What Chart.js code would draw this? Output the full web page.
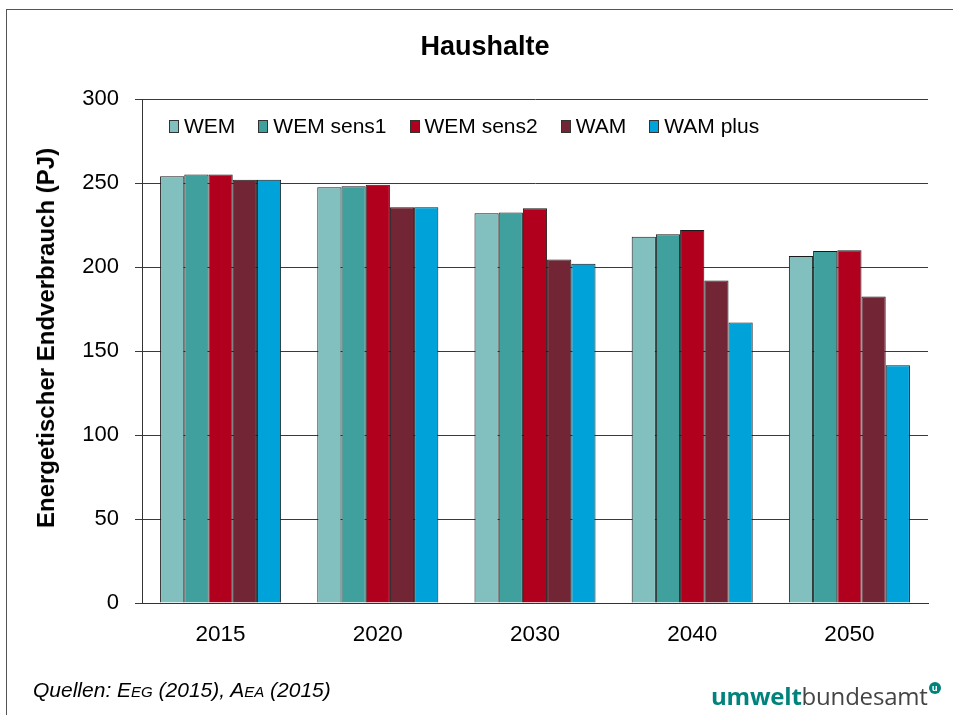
<!DOCTYPE html>
<html>
<head>
<meta charset="utf-8">
<script src="https://cdn.jsdelivr.net/npm/chart.js@4"></script>
<style>
  html, body { margin: 0; padding: 0; background: #fff; }
  body { width: 953px; height: 715px; position: relative; overflow: hidden; font-family: "Liberation Sans", Arial, sans-serif; }
  #frame { position: absolute; left: 6px; top: 9px; width: 1000px; height: 800px; border-left: 1px solid #555; border-top: 1px solid #555; }
  #wrap { position: absolute; left: 0; top: 0; width: 953px; height: 715px; }
  #title { position: absolute; left: 385px; width: 200px; top: 31px; text-align: center; font-size: 27px; font-weight: bold; color: #000; }
  #ytitle { position: absolute; left: 46px; top: 338px; transform: translate(-50%, -50%) rotate(-90deg); white-space: nowrap; font-size: 24px; font-weight: bold; color: #000; }
  #legend { position: absolute; left: 169px; top: 114px; display: flex; font-size: 21px; color: #000; }
  .item { display: flex; align-items: center; margin-right: 23px; }
  .box { width: 8px; height: 11px; border: 1px solid #333; margin-right: 5px; }
  #source { position: absolute; left: 33px; top: 678px; font-size: 21px; font-style: italic; color: #000; }
  #source small { font-size: 15px; }
  #logo { position: absolute; left: 711px; top: 679px; font-family: "Open Sans", sans-serif; font-size: 24px; color: #444; letter-spacing: -0.2px; }
  #logo b { color: #00837c; font-weight: 700; }
  #logo sup { display: inline-block; width: 12px; height: 12px; border-radius: 50%; background: #00837c; color: #fff; font-size: 9px; font-weight: bold; line-height: 12px; text-align: center; vertical-align: 14px; margin-left: 1px; }
</style>
</head>
<body>
<div id="frame"></div>
<div id="wrap"><canvas id="chart" width="953" height="715"></canvas></div>
<div id="title">Haushalte</div>
<div id="ytitle">Energetischer Endverbrauch (PJ)</div>
<div id="legend"></div>
<div id="source">Quellen: E<small>EG</small> (2015), A<small>EA</small> (2015)</div>
<div id="logo"><b>umwelt</b>bundesamt<sup>u</sup></div>
<script>
const years = ['2015', '2020', '2030', '2040', '2050'];
const seriesNames = ['WEM', 'WEM sens1', 'WEM sens2', 'WAM', 'WAM plus'];
const wem = [254, 247.5, 232, 218, 206.5];
const wemSens1 = [255, 248, 232.5, 219.5, 209.5];
const wemSens2 = [255, 249, 235, 222, 210];
const wam = [252, 235.5, 204.5, 192, 182.5];
const wamPlus = [252, 235.5, 202, 167, 141.5];
const colors = ['#82bfbf', '#40a09e', '#b0001e', '#722535', '#00a3d9'];

const allValues = [wem, wemSens1, wemSens2, wam, wamPlus];

const chart = new Chart(document.getElementById('chart'), {
  type: 'bar',
  data: {
    labels: years,
    datasets: allValues.map((vals, i) => ({
      label: seriesNames[i],
      data: vals,
      backgroundColor: colors[i],
      borderColor: '#1a1a1a',
      borderWidth: 1,
      borderSkipped: 'bottom',
      categoryPercentage: 0.77,
      barPercentage: 1,
    })),
  },
  options: {
    responsive: false,
    animation: false,
    devicePixelRatio: 1,
    layout: { padding: { left: 20, right: 25, top: 99, bottom: 62 } },
    plugins: {
      legend: { display: false },
      tooltip: { enabled: false },
    },
    scales: {
      x: {
        grid: { display: false, drawTicks: false },
        border: { display: true, color: '#333', width: 1 },
        ticks: { color: '#000', font: { family: 'Liberation Sans', size: 22.5 }, padding: 18 },
        afterFit: (scale) => { scale.height = 50; },
      },
      y: {
        min: 0,
        max: 300,
        ticks: { stepSize: 50, color: '#000', font: { family: 'Liberation Sans', size: 22 }, padding: 16 },
        grid: { color: '#3a3a3a', lineWidth: 1, tickLength: 7 },
        border: { display: true, color: '#333', width: 1 },
        afterFit: (scale) => { scale.width = 122; },
      },
    },
  },
});

document.getElementById('legend').innerHTML = chart.data.datasets
  .map((ds) => `<div class="item"><span class="box" style="background:${ds.backgroundColor}"></span>${ds.label}</div>`)
  .join('');
</script>
</body>
</html>
